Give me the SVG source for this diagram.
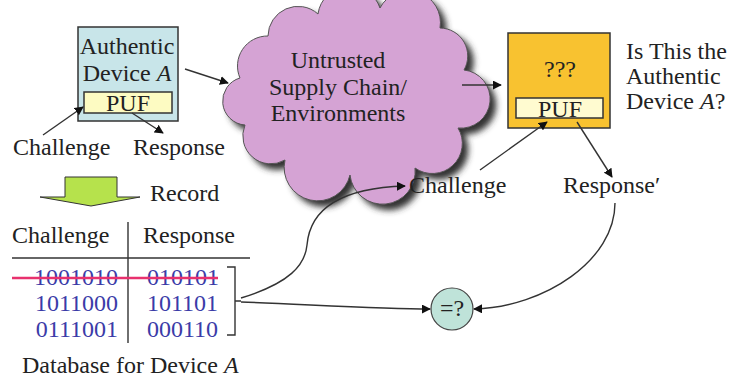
<svg xmlns="http://www.w3.org/2000/svg" width="730" height="379" viewBox="0 0 730 379" font-family="Liberation Serif, DejaVu Serif, serif">
<style>
text{font-size:24px;fill:#222}
.c{text-anchor:middle}
.d{fill:#3b3ba8;font-size:24px}
.box{stroke:#333;stroke-width:1.5}
.ln{fill:none;stroke:#333;stroke-width:1.4}
.arr{fill:none;stroke:#333;stroke-width:1.4;marker-end:url(#ah)}
</style>
<defs>
<marker id="ah" viewBox="0 0 10 10" refX="9" refY="5" markerWidth="9" markerHeight="9" markerUnits="userSpaceOnUse" orient="auto">
<path d="M0,0 L10,5 L0,10 z" fill="#111"/>
</marker>
<filter id="sh" x="-10%" y="-10%" width="130%" height="130%"><feGaussianBlur stdDeviation="3"/></filter>
</defs>
<rect width="730" height="379" fill="#fff"/>

<g id="deviceA">
<rect class="box" x="78" y="27" width="100" height="94" fill="#c8e5e9"/>
<text class="c" x="127" y="54">Authentic</text>
<text class="c" x="127" y="81">Device <tspan font-style="italic">A</tspan></text>
<rect class="box" x="84" y="92" width="88" height="21" fill="#fdfbc2"/>
<text class="c" x="128" y="111" font-size="23">PUF</text>
</g>

<g id="labelsA">
<text x="13" y="155">Challenge</text>
<text x="133" y="155">Response</text>
</g>

<g id="cloud">
<path transform="translate(6,6)" filter="url(#sh)" fill="#333" d="M240,78 A30,30 0 0 1 268,36 A30,30 0 0 1 318,14 A32,32 0 0 1 380,8 A32,32 0 0 1 440,28 A28,28 0 0 1 464,70 A26,26 0 0 1 458,128 A30,30 0 0 1 415,168 A32,32 0 0 1 350,175 A32,32 0 0 1 285,160 A28,28 0 0 1 245,125 A24,24 0 0 1 240,78 Z"/>
<path fill="#d5a3d4" stroke="#555" stroke-width="1" d="M240,78 A30,30 0 0 1 268,36 A30,30 0 0 1 318,14 A32,32 0 0 1 380,8 A32,32 0 0 1 440,28 A28,28 0 0 1 464,70 A26,26 0 0 1 458,128 A30,30 0 0 1 415,168 A32,32 0 0 1 350,175 A32,32 0 0 1 285,160 A28,28 0 0 1 245,125 A24,24 0 0 1 240,78 Z"/>
<text class="c" x="338" y="68">Untrusted</text>
<text class="c" x="338" y="95">Supply Chain/</text>
<text class="c" x="338" y="121">Environments</text>
</g>

<g id="deviceQ">
<rect class="box" x="508" y="33" width="102" height="95" fill="#f8c230"/>
<text class="c" x="560" y="77" font-size="20">???</text>
<rect class="box" x="516" y="98" width="87" height="20" fill="#fffbd0"/>
<text class="c" x="560" y="117" font-size="23">PUF</text>
</g>

<g id="question">
<text x="626" y="59">Is This the</text>
<text x="626" y="84">Authentic</text>
<text x="626" y="109">Device <tspan font-style="italic">A</tspan>?</text>
</g>

<g id="labelsQ">
<text x="409" y="193">Challenge</text>
<text x="563" y="193">Response′</text>
</g>

<g id="record">
<polygon points="65,177 117,177 117,197 140,197 91,206 40,197 65,197" fill="#b6e24c" stroke="#333" stroke-width="1"/>
<text x="150" y="201">Record</text>
</g>

<g id="database">
<text x="12" y="243">Challenge</text>
<text x="143" y="243">Response</text>
<line class="ln" x1="128" y1="222" x2="128" y2="343"/>
<line class="ln" x1="12" y1="258" x2="250" y2="258"/>
<text class="d" x="118" y="285" text-anchor="end">1001010</text>
<text class="d" x="147" y="285">010101</text>
<text class="d" x="118" y="311" text-anchor="end">1011000</text>
<text class="d" x="147" y="311">101101</text>
<text class="d" x="118" y="337" text-anchor="end">0111001</text>
<text class="d" x="147" y="337">000110</text>
<line x1="12" y1="278" x2="218" y2="278" stroke="#e8316e" stroke-width="2.5"/>
<path class="ln" stroke-width="2" d="M227,267 H235 V335 H227 M235,301 H241"/>
<text x="22" y="373">Database for Device <tspan font-style="italic">A</tspan></text>
</g>

<g id="compare">
<circle cx="452" cy="309" r="21" fill="#bfe3d9" stroke="#444" stroke-width="1.2"/>
<text class="c" x="452" y="316" font-size="21">=?</text>
</g>

<g id="connectors">
<line class="arr" x1="185" y1="69" x2="228" y2="83"/>
<line class="arr" x1="462" y1="85" x2="501" y2="85"/>
<line class="arr" x1="43" y1="135" x2="83" y2="107"/>
<line class="arr" x1="132" y1="113" x2="163" y2="133"/>
<line class="arr" x1="480" y1="170" x2="547" y2="122"/>
<line class="arr" x1="577" y1="122" x2="612" y2="177"/>
<path class="arr" d="M241,298 C290,283 305,265 307,245 C310,210 340,188 405,186"/>
<path class="arr" d="M241,302 C300,304 380,309 430,309"/>
<path class="arr" d="M615,203 C615,260 545,307 474,309"/>
</g>
</svg>
